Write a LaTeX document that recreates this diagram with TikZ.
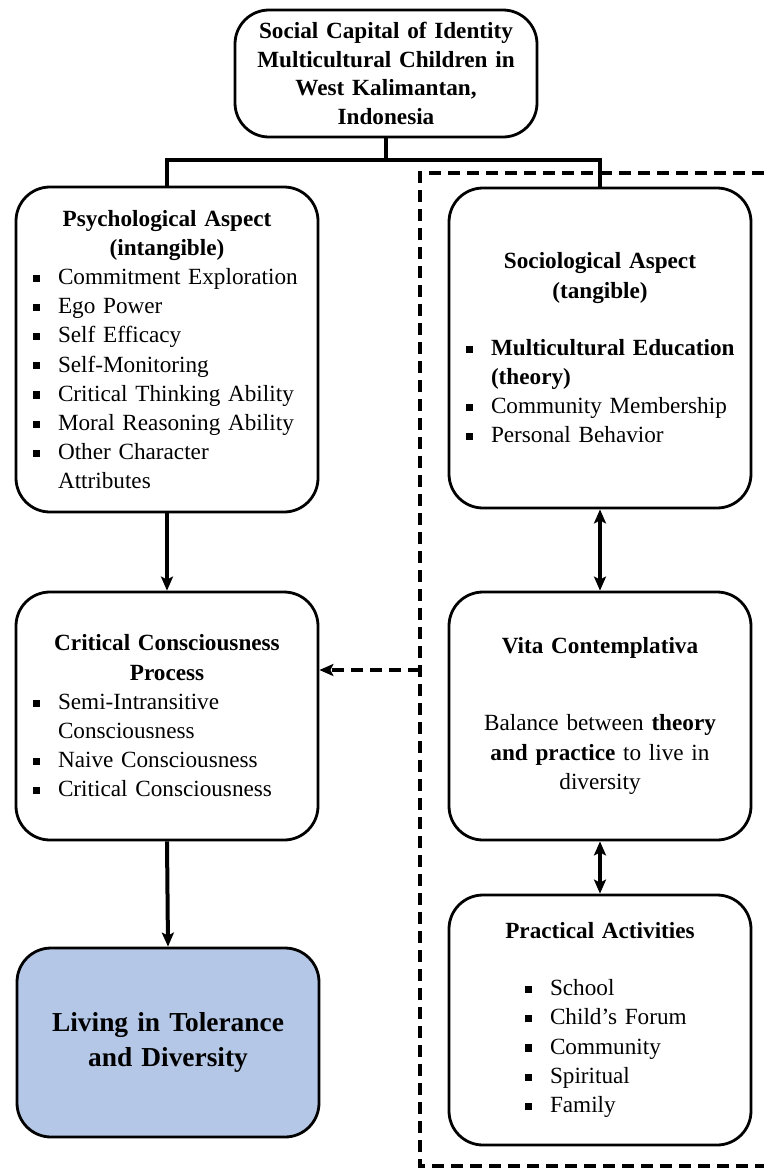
\documentclass[tikz,border=0pt]{standalone}
\usepackage{fontspec}
\setmainfont{Liberation Serif}
\usetikzlibrary{arrows.meta}

\definecolor{tolblue}{RGB}{180,199,231}
\newcommand{\sqbul}{\rule[1.3pt]{3.6pt}{3.6pt}}
\newcommand{\bitem}[1]{\par\hangindent=12.5pt\hangafter=1\noindent\makebox[12.5pt][l]{\sqbul}#1\par}

\begin{document}
\begin{tikzpicture}[x=0.5pt,y=-0.5pt,
		box/.style={draw, line width=1.4pt, rounded corners=17pt, inner xsep=8.5pt, inner ysep=0pt,
			text width=134pt, align=left, font=\fontsize{11.6}{14.6}\selectfont},
		link/.style={line width=2pt, -{Stealth[length=7pt,width=6pt,inset=1.5pt]}},
		both/.style={line width=2pt, {Stealth[length=7pt,width=6pt,inset=1.5pt]}-{Stealth[length=7pt,width=6pt,inset=1.5pt]}},
		frame/.style={line width=1.7pt, dash pattern=on 6pt off 3.5pt}]
			\useasboundingbox (0,0) rectangle (764,1168);

			% Title
			\node[box, align=center, minimum height=63.5pt, font=\fontsize{11.6}{14.2}\selectfont\bfseries] (title) at (386,73.5)
				{Social Capital of Identity\\Multicultural Children in\\West Kalimantan,\\Indonesia};

			% Left column
			\node[box, minimum height=162.5pt] (psych) at (167,349.5) {%
				{\centering\bfseries Psychological Aspect\\(intangible)\par}
				\bitem{Commitment Exploration}
				\bitem{Ego Power}
				\bitem{Self Efficacy}
				\bitem{Self-Monitoring}
				\bitem{Critical Thinking Ability}
				\bitem{Moral Reasoning Ability}
				\bitem{Other Character\newline Attributes}};
			\node[box, minimum height=124pt] (crit) at (167,716) {%
				{\centering\bfseries Critical Consciousness\\Process\par}
				\bitem{Semi-Intransitive\newline Consciousness}
				\bitem{Naive Consciousness}
				\bitem{Critical Consciousness}};
			\node[box, fill=tolblue, align=center, minimum height=94.5pt, font=\fontsize{13.7}{17.5}\selectfont\bfseries] (living) at (168,1042.5)
				{Living in Tolerance\\and Diversity};

			% Right column
			\node[box, minimum height=160pt] (socio) at (600,348) {%
				{\centering\bfseries Sociological Aspect\\(tangible)\par}
				\vspace{14pt}
				\bitem{\mbox{\textbf{Multicultural Education}}\newline\textbf{(theory)}}
				\bitem{Community Membership}
				\bitem{Personal Behavior}};
			\node[box, minimum height=124pt] (vita) at (600,716) {%
				{\centering\bfseries Vita Contemplativa\par}
				\vspace{24pt}
				{\centering Balance between \textbf{theory}\\\textbf{and practice} to live in\\diversity\par}};
			\node[box, minimum height=125pt] (practice) at (600,1020) {%
				{\centering\bfseries Practical Activities\par}
				\vspace{14pt}
				{\leftskip=29.5pt
				\bitem{School}
				\bitem{Child's Forum}
				\bitem{Community}
				\bitem{Spiritual}
				\bitem{Family}}};

			% Dashed frame round the sociological side
			\coordinate (fr1) at (764,173);
			\coordinate (fr2) at (420,173);
			\coordinate (fr3) at (420,1166);
			\coordinate (fr4) at (764,1166);
			\draw[frame] (fr1) -- (fr2) -- (fr3) -- (fr4);

			% Tree
			\coordinate (split) at (386,160);
			\draw[line width=2pt] (title.south) -- (split);
			\draw[line width=2pt] (split) -| (psych.north);
			\draw[line width=2pt] (split) -| (socio.north);

			% Arrows
			\draw[link] (psych.south) -- (crit.north);
			\draw[link] (crit.south) -- (living.north);
			\draw[both] (socio.south) -- (vita.north);
			\draw[both] (vita.south) -- (practice.north);
			\coordinate (tap) at (420,670);
			\draw[link, dash pattern=on 6pt off 3.5pt] (tap) -- (tap -| crit.east);
		\end{tikzpicture}
\end{document}
